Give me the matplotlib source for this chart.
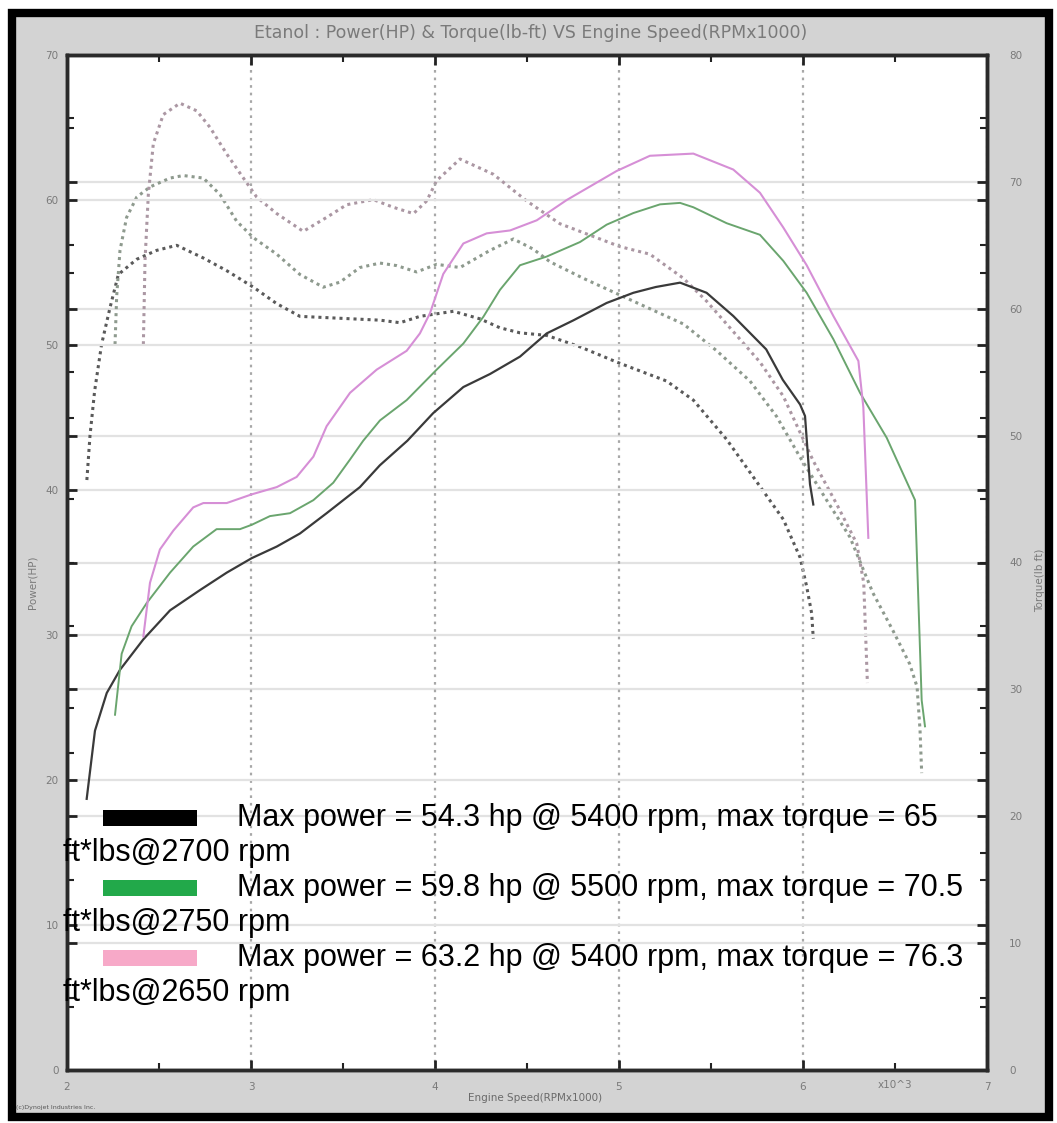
import matplotlib
matplotlib.use('Agg')
import matplotlib.pyplot as plt
from matplotlib.patches import Rectangle
from matplotlib.ticker import MultipleLocator, FixedLocator
import matplotlib.transforms as mtransforms

W, H, DPI = 1057, 1123, 100

# ---------------- data (engine speed in RPM x 1000) ----------------
black_power_rpm = [2.107, 2.152, 2.216, 2.288, 2.415, 2.56, 2.723, 2.868, 3.004, 3.14, 3.266, 3.411,
                   3.592, 3.70, 3.85, 3.99, 4.154, 4.299, 4.462, 4.607, 4.752, 4.933, 5.078, 5.20,
                   5.332, 5.476, 5.621, 5.80, 5.89, 5.984, 6.011, 6.038, 6.056]
black_power = [18.7, 23.4, 26.0, 27.6, 29.7, 31.7, 33.1, 34.3, 35.3, 36.1, 37.0, 38.4,
               40.2, 41.7, 43.4, 45.3, 47.1, 48.0, 49.2, 50.8, 51.7, 52.9, 53.6, 54.0,
               54.3, 53.6, 52.0, 49.7, 47.6, 45.9, 45.1, 40.4, 39.0]

green_power_rpm = [2.261, 2.297, 2.351, 2.433, 2.56, 2.686, 2.813, 2.94, 3.004, 3.103, 3.212, 3.339,
                   3.447, 3.538, 3.61, 3.701, 3.846, 4.009, 4.154, 4.263, 4.353, 4.462, 4.607,
                   4.788, 4.933, 5.078, 5.223, 5.332, 5.404, 5.585, 5.766, 5.893, 6.02, 6.165,
                   6.31, 6.455, 6.609, 6.627, 6.645, 6.663]
green_power = [24.5, 28.7, 30.6, 32.2, 34.3, 36.1, 37.3, 37.3, 37.6, 38.2, 38.4, 39.3,
               40.5, 42.1, 43.4, 44.8, 46.2, 48.3, 50.1, 51.95, 53.8, 55.5, 56.1,
               57.1, 58.3, 59.1, 59.7, 59.8, 59.5, 58.4, 57.6, 55.8, 53.6, 50.4,
               46.7, 43.6, 39.3, 32.4, 25.5, 23.7]

pink_power_rpm = [2.415, 2.451, 2.505, 2.578, 2.686, 2.741, 2.868, 3.004, 3.14, 3.248, 3.339, 3.411,
                  3.538, 3.683, 3.846, 3.918, 3.973, 4.045, 4.154, 4.281, 4.408, 4.553, 4.716,
                  4.987, 5.168, 5.404, 5.621, 5.766, 5.893, 6.02, 6.165, 6.301, 6.328, 6.355]
pink_power = [29.9, 33.6, 35.9, 37.2, 38.8, 39.1, 39.1, 39.7, 40.2, 40.9, 42.3, 44.4,
              46.7, 48.3, 49.6, 50.8, 52.2, 54.9, 57.0, 57.7, 57.9, 58.6, 60.0,
              62.0, 63.05, 63.2, 62.1, 60.5, 58.1, 55.5, 52.0, 48.9, 45.7, 36.7]

black_torque_rpm = [2.108, 2.125, 2.15, 2.188, 2.234, 2.279, 2.379, 2.487, 2.596, 2.741, 2.868, 3.013,
                    3.14, 3.266, 3.411, 3.556, 3.701, 3.81, 3.918, 4.1, 4.245, 4.353, 4.462, 4.607,
                    4.788, 4.987, 5.15, 5.259, 5.404, 5.585, 5.766, 5.893, 5.984, 6.02, 6.047, 6.056]
black_torque = [46.5, 50.0, 53.5, 57.2, 60.1, 62.7, 63.9, 64.6, 65.0, 64.0, 63.0, 61.7,
                60.4, 59.4, 59.3, 59.2, 59.1, 58.9, 59.4, 59.8, 59.2, 58.5, 58.1, 57.9,
                57.0, 55.8, 54.9, 54.3, 52.8, 49.7, 46.0, 43.4, 40.4, 38.1, 36.0, 34.0]

green_torque_rpm = [2.261, 2.27, 2.288, 2.324, 2.379, 2.451, 2.56, 2.632, 2.741, 2.832, 2.922, 3.013,
                    3.14, 3.266, 3.393, 3.484, 3.592, 3.701, 3.792, 3.90, 4.009, 4.136, 4.299, 4.426,
                    4.534, 4.625, 4.806, 4.987, 5.168, 5.35, 5.53, 5.712, 5.857, 5.984, 6.129,
                    6.255, 6.38, 6.49, 6.58, 6.62, 6.636, 6.645]
green_torque = [57.2, 61.0, 64.6, 67.2, 68.8, 69.6, 70.3, 70.5, 70.3, 69.0, 66.9, 65.6,
                64.3, 62.7, 61.7, 62.1, 63.25, 63.6, 63.4, 62.9, 63.5, 63.25, 64.6, 65.5,
                64.7, 63.7, 62.4, 61.2, 60.0, 58.8, 56.7, 54.3, 51.5, 48.3, 44.9,
                42.0, 37.6, 34.6, 32.0, 30.2, 26.8, 23.4]

pink_torque_rpm = [2.415, 2.424, 2.442, 2.469, 2.523, 2.614, 2.705, 2.777, 2.868, 2.949, 3.031, 3.14,
                   3.284, 3.411, 3.52, 3.665, 3.773, 3.883, 3.955, 4.009, 4.136, 4.317, 4.498,
                   4.679, 4.86, 5.005, 5.168, 5.35, 5.476, 5.621, 5.766, 5.893, 6.056, 6.183,
                   6.292, 6.33, 6.35]
pink_torque = [57.2, 63.8, 69.0, 73.0, 75.3, 76.2, 75.6, 74.3, 72.2, 70.5, 68.8, 67.5,
               66.1, 67.2, 68.2, 68.6, 68.0, 67.5, 68.5, 70.1, 71.8, 70.6, 68.5,
               66.7, 65.7, 64.9, 64.3, 62.4, 60.6, 58.2, 55.8, 53.1, 48.0, 44.6,
               41.5, 38.4, 30.5]

# summary (legend) values
max_power = [54.3, 59.8, 63.2]
max_power_rpm = [5400, 5500, 5400]
max_torque = [65, 70.5, 76.3]
max_torque_rpm = [2700, 2750, 2650]
legend_colors = ['#000000', '#22a94a', '#f7a9c8']

x_tick_values = [2, 3, 4, 5, 6, 7]
x_tick_labels = ['2', '3', '4', '5', '6', '7']
multiplier_label = 'x10^3'
multiplier_pos = 6.5

title = 'Etanol : Power(HP) & Torque(lb-ft) VS Engine Speed(RPMx1000)'

# ---------------- figure ----------------
fig = plt.figure(figsize=(W / DPI, H / DPI), dpi=DPI, facecolor='white')
fig.patches.append(Rectangle((12 / W, 1 - 1117 / H), (1049 - 12) / W, (1117 - 13) / H,
                             transform=fig.transFigure, facecolor='#d3d3d3',
                             edgecolor='black', linewidth=6, zorder=-10))

ax = fig.add_axes([67 / W, 1 - 1070 / H, 920 / W, 1015 / H])
ax2 = ax.twinx()
ax.set_zorder(ax2.get_zorder() + 1)
ax.patch.set_visible(False)
ax2.patch.set_visible(True)
ax2.patch.set_facecolor('white')

ax.set_xlim(2, 7)
ax.set_ylim(0, 70)
ax2.set_ylim(0, 80)

grid_col = '#e2e2e2'
for a in (ax, ax2):
    a.yaxis.set_major_locator(MultipleLocator(10))
    a.yaxis.set_minor_locator(MultipleLocator(5))
ax2.yaxis.grid(True, color=grid_col, linewidth=1.6)
ax.yaxis.grid(True, color=grid_col, linewidth=1.6)
ax.xaxis.set_major_locator(FixedLocator(x_tick_values))
ax.set_xticklabels(x_tick_labels)
ax.xaxis.set_minor_locator(MultipleLocator(0.5))
ax.xaxis.grid(True, color='#a8a8a8', linestyle=(0, (1.2, 2.2)), linewidth=1.6)

# curves
dot = (0, (1.0, 1.3))
ax2.plot(black_torque_rpm, black_torque, color='#5a5a5a', linestyle=dot, linewidth=2.2)
ax2.plot(green_torque_rpm, green_torque, color='#8e9a8e', linestyle=dot, linewidth=2.2)
ax2.plot(pink_torque_rpm, pink_torque, color='#ab97a3', linestyle=dot, linewidth=2.2)

ax.plot(black_power_rpm, black_power, color='#3a3a3a', linewidth=1.6)
ax.plot(green_power_rpm, green_power, color='#6aa56e', linewidth=1.4)
ax.plot(pink_power_rpm, pink_power, color='#d68fd6', linewidth=1.5)

# spines & ticks
for a in (ax, ax2):
    for s in a.spines.values():
        s.set_linewidth(2.5)
        s.set_color('#2a2a2a')
tick_col = '#7a7a7a'
ax.tick_params(axis='y', which='both', direction='in', left=True, right=True,
               labelright=False, colors='#222222', labelcolor=tick_col, labelsize=7.5, pad=6)
ax.tick_params(axis='y', which='major', length=7, width=2)
ax.tick_params(axis='y', which='minor', length=5, width=1.5)
ax2.tick_params(axis='y', which='both', direction='in', left=True, right=True,
                labelleft=False, colors='#222222', labelcolor=tick_col, labelsize=7.5, pad=16)
ax2.tick_params(axis='y', which='major', length=7, width=2)
ax2.tick_params(axis='y', which='minor', length=5, width=1.5)
ax.tick_params(axis='x', which='both', direction='in', top=True, bottom=True,
               colors='#222222', labelcolor=tick_col, labelsize=7.5, pad=9)
ax.tick_params(axis='x', which='major', length=7, width=2)
ax.tick_params(axis='x', which='minor', length=5, width=1.5)

trans = mtransforms.blended_transform_factory(ax.transData, fig.transFigure)
ax.text(multiplier_pos, 1 - 1085 / H, multiplier_label, transform=trans, ha='center', va='center',
        fontsize=7.5, color=tick_col)

# titles and labels
fig.text(531 / W, 1 - 33 / H, title, ha='center', va='center', fontsize=12.5, color='#7a7a7a')
fig.text(535 / W, 1 - 1098 / H, 'Engine Speed(RPMx1000)', ha='center', va='center',
         fontsize=7.5, color='#6a6a6a')
fig.text(33 / W, 1 - 582 / H, 'Power(HP)', rotation=90, ha='center', va='center',
         fontsize=7.5, color='#7a7a7a')
fig.text(1040 / W, 1 - 580 / H, 'Torque(lb ft)', rotation=90, ha='center', va='center',
         fontsize=7.5, color='#7a7a7a')
fig.text(16 / W, 1 - 1108 / H, '(c)Dynojet Industries Inc.', ha='left', va='center',
         fontsize=4.5, color='#555555')

# legend overlay
for i in range(len(max_power)):
    yc = 818 + 70 * i
    fig.patches.append(Rectangle((103 / W, 1 - (yc + 8) / H), 94 / W, 16 / H,
                                 transform=fig.transFigure, facecolor=legend_colors[i],
                                 edgecolor='none', zorder=5))
    fig.text(237 / W, 1 - yc / H,
             f"Max power = {max_power[i]:g} hp @ {max_power_rpm[i]} rpm, max torque = {max_torque[i]:g}",
             ha='left', va='center', fontsize=22, family='Liberation Sans', color='black', zorder=6)
    fig.text(63 / W, 1 - (yc + 35) / H, f"ft*lbs@{max_torque_rpm[i]} rpm",
             ha='left', va='center', fontsize=22, family='Liberation Sans', color='black', zorder=6)

fig.savefig('out.png', dpi=DPI, facecolor=fig.get_facecolor())
